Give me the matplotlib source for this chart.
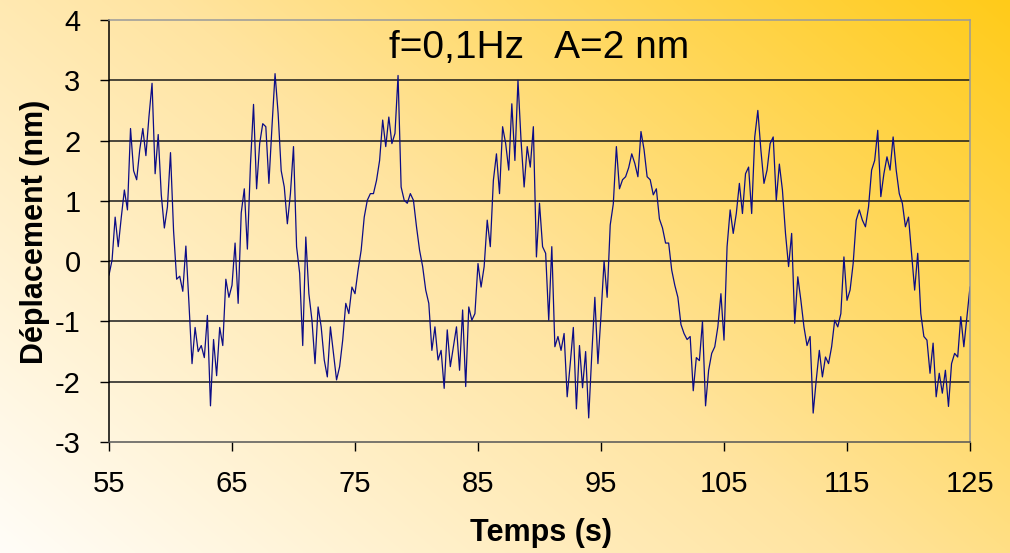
import numpy as np
import matplotlib
matplotlib.use("Agg")
import matplotlib.pyplot as plt

# displacement, one value every 0.25 s starting at 55 s
t_start = 55.0
t_step = 0.25
disp = [
    -0.23, 0.02, 0.73, 0.24, 0.73, 1.18, 0.85, 2.2,      # 55
    1.5, 1.35, 1.85, 2.2, 1.75, 2.4, 2.95, 1.45,         # 57
    2.1, 1.1, 0.55, 0.9, 1.8, 0.5, -0.3, -0.25,          # 59
    -0.5, 0.25, -0.7, -1.7, -1.1, -1.5, -1.4, -1.6,      # 61
    -0.9, -2.4, -1.3, -1.9, -1.1, -1.4, -0.3, -0.6,      # 63
    -0.4, 0.3, -0.7, 0.8, 1.2, 0.2, 1.6, 2.6,            # 65
    1.2, 1.95, 2.28, 2.23, 1.29, 2.23, 3.11, 2.45,       # 67
    1.5, 1.23, 0.62, 1.12, 1.9, 0.24, -0.2, -1.4,        # 69
    0.4, -0.54, -0.98, -1.7, -0.76, -1.09, -1.64, -1.92, # 71
    -1.09, -1.53, -1.97, -1.75, -1.31, -0.7, -0.87, -0.43,  # 73
    -0.54, -0.15, 0.18, 0.73, 1.01, 1.12, 1.12, 1.34,    # 75
    1.67, 2.34, 1.9, 2.39, 1.95, 2.12, 3.08, 1.23,       # 77
    1.01, 0.96, 1.12, 1.01, 0.57, 0.18, -0.09, -0.48,    # 79
    -0.7, -1.48, -1.09, -1.64, -1.48, -2.11, -1.14, -1.75,  # 81
    -1.42, -1.09, -1.81, -0.81, -2.08, -0.76, -0.98, -0.87,  # 83
    -0.04, -0.43, -0.09, 0.68, 0.24, 1.34, 1.78, 1.12,   # 85
    2.23, 1.95, 1.51, 2.61, 1.67, 3.0, 2.0, 1.23,        # 87
    1.9, 1.56, 2.23, 0.07, 0.96, 0.24, 0.13, -0.98,      # 89
    0.24, -1.42, -1.25, -1.48, -1.2, -2.25, -1.7, -1.1,  # 91
    -2.45, -1.4, -2.1, -1.5, -2.6, -1.55, -0.6, -1.7,    # 93
    -0.9, 0.0, -0.6, 0.6, 0.95, 1.9, 1.2, 1.35,          # 95
    1.4, 1.55, 1.78, 1.62, 1.4, 2.15, 1.85, 1.4,         # 97
    1.35, 1.1, 1.2, 0.7, 0.55, 0.3, 0.3, -0.15,          # 99
    -0.4, -0.6, -1.05, -1.2, -1.3, -1.25, -2.15, -1.6,   # 101
    -1.65, -1.0, -2.4, -1.81, -1.53, -1.42, -1.09, -0.54,  # 103
    -1.31, 0.24, 0.85, 0.46, 0.79, 1.29, 0.79, 1.45,     # 105
    1.56, 0.79, 2.06, 2.5, 1.84, 1.29, 1.51, 1.95,       # 107
    2.06, 1.01, 1.61, 1.18, 0.46, -0.09, 0.46, -1.03,    # 109
    -0.26, -0.65, -1.09, -1.4, -1.25, -2.52, -1.97, -1.48,  # 111
    -1.92, -1.59, -1.7, -1.42, -0.98, -1.09, -0.87, 0.07,  # 113
    -0.65, -0.48, -0.04, 0.68, 0.85, 0.68, 0.57, 0.9,    # 115
    1.51, 1.67, 2.17, 1.07, 1.45, 1.73, 1.51, 2.06,      # 117
    1.51, 1.12, 0.96, 0.57, 0.73, 0.13, -0.48, 0.13,     # 119
    -0.87, -1.25, -1.31, -1.86, -1.36, -2.25, -1.86, -2.19,  # 121
    -1.81, -2.41, -1.7, -1.53, -1.59, -0.92, -1.42, -0.92,  # 123
    -0.43,                                               # 125
]
x_ticks = [55, 65, 75, 85, 95, 105, 115, 125]
y_ticks = [-3, -2, -1, 0, 1, 2, 3, 4]
title_text = "f=0,1Hz   A=2 nm"

t = t_start + t_step * np.arange(len(disp))

plt.rcParams['font.family'] = ['Liberation Sans', 'DejaVu Sans']
plt.rcParams['axes.unicode_minus'] = False

fig = plt.figure(figsize=(10.10, 5.53), dpi=100)

# diagonal gradient background: pale cream bottom-left -> golden top-right
H, W = 276, 505
u = np.linspace(0, 1, W)[None, :]
v = np.linspace(1, 0, H)[:, None]
s = np.clip(0.6 * u + 0.4 * v, 0, 1)
c0 = np.array([255, 253, 248]) / 255.0
c1 = np.array([255, 228, 160]) / 255.0
c2 = np.array([255, 203, 25]) / 255.0
grad = np.zeros((H, W, 3))
for k in range(3):
    grad[:, :, k] = np.interp(s, [0, 0.5, 1], [c0[k], c1[k], c2[k]])
bg = fig.add_axes([0, 0, 1, 1], zorder=-10)
bg.imshow(grad, aspect='auto', extent=[0, 1, 0, 1], interpolation='bilinear')
bg.axis('off')

ax = fig.add_axes([109 / 1010, 1 - 442 / 553, 861 / 1010, 422 / 553])
ax.patch.set_alpha(0)

ax.plot(t, disp, color='#0c0c86', lw=0.9)

ax.set_xlim(55, 125)
ax.set_ylim(-3, 4)
ax.set_xticks(x_ticks)
ax.set_yticks(y_ticks)
ax.tick_params(axis='both', labelsize=21, length=6.5, width=1, direction='out')
ax.tick_params(axis='y', pad=14)
ax.tick_params(axis='x', pad=14)

# horizontal grid lines at each integer
for yv in y_ticks[1:-1]:
    ax.axhline(yv, color='#1a1a1a', lw=1.1, zorder=1)

ax.spines['left'].set_color('black')
ax.spines['bottom'].set_color('#555555')
ax.spines['top'].set_color('#9a9a9a')
ax.spines['right'].set_color('#9a9a9a')
for sp in ax.spines.values():
    sp.set_linewidth(1.1)

ax.text(90, 3.53, title_text, fontsize=28, ha='center', va='center')

fig.text(35 / 1010, 1 - 232 / 553, 'Déplacement (nm)', rotation=90,
         fontsize=22, fontweight='bold', ha='center', va='center')
fig.text(541 / 1010, 1 - 533 / 553, 'Temps (s)',
         fontsize=22, fontweight='bold', ha='center', va='center')

fig.savefig('out.png', dpi=100)
